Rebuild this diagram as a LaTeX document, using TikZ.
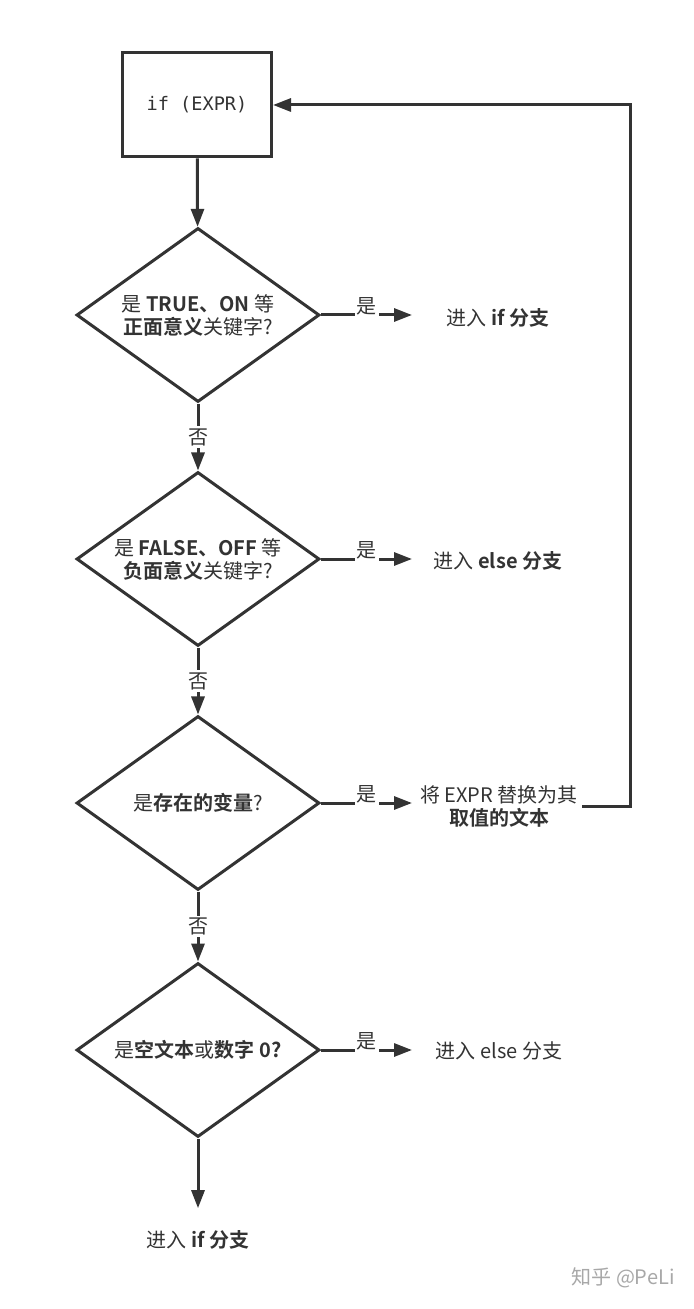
\documentclass[tikz,border=0pt]{standalone}
\usepackage{fontspec}
\setmainfont{Noto Sans CJK SC}[BoldFont={Noto Sans CJK SC Bold}]
\newfontfamily\codefont{DejaVu Sans Mono}
\usetikzlibrary{shapes.geometric,arrows.meta}
\definecolor{ink}{HTML}{333333}
\definecolor{markgray}{HTML}{A8A8A8}

\begin{document}
\begin{tikzpicture}[x=0.5pt,y=-0.5pt,
  every node/.style={text=ink,font=\fontsize{10}{11.5}\selectfont},
  decision/.style={draw=ink,line width=1.5pt,diamond,aspect=1.4,inner sep=0pt,
    minimum width=121.5pt,minimum height=87pt,align=center},
  process/.style={draw=ink,line width=1.5pt,minimum width=74.5pt,minimum height=52pt,
    font=\codefont\fontsize{9.3}{11}\selectfont},
  arr/.style={draw=ink,line width=1.5pt,-{Triangle[length=9pt,width=6.5pt]}},
  lab/.style={fill=white,inner sep=1pt},
  outtext/.style={align=center,inner sep=2pt}]
  \fill[white] (0,0) rectangle (693,1309);
  \useasboundingbox (0,0) rectangle (693,1309);

  \node[process] (box) at (197,105) {if (EXPR)};
  \node[decision] (d1) at (198,315) {是 \textbf{TRUE、ON} 等\\\textbf{正面意义}关键字?};
  \node[decision] (d2) at (198,559) {是 \textbf{FALSE、OFF} 等\\\textbf{负面意义}关键字?};
  \node[decision] (d3) at (198,803) {是\textbf{存在的变量}?};
  \node[decision] (d4) at (198,1050) {是\textbf{空文本}或\textbf{数字 0?}};

  \node[outtext] (o1) at (498,318) {进入 \textbf{if 分支}};
  \node[outtext] (o2) at (498,561) {进入 \textbf{else 分支}};
  \node[outtext] (o3) at (499,806) {将 EXPR 替换为其\\\textbf{取值的文本}};
  \node[outtext] (o4) at (499,1051) {进入 else 分支};
  \node[outtext] (o5) at (198,1240) {进入 \textbf{if 分支}};
  \node[text=markgray] (mark) at (623,1278) {知乎 @PeLi};

  \coordinate (tipX) at (412,0);
  \coordinate (loopX) at (630,0);

  \draw[arr] (box) -- (d1);
  \draw[arr] (d1) -- node[lab]{否} (d2);
  \draw[arr] (d2) -- node[lab]{否} (d3);
  \draw[arr] (d3) -- node[lab]{否} (d4);
  \draw[arr,shorten >=9pt] (d4) -- (o5);

  \draw[arr] (d1.east) -- node[lab,yshift=4.5pt]{是} (d1.east -| tipX);
  \draw[arr] (d2.east) -- node[lab,yshift=4.5pt]{是} (d2.east -| tipX);
  \draw[arr] (d3.east) -- node[lab,yshift=4.5pt]{是} (d3.east -| tipX);
  \draw[arr] (d4.east) -- node[lab,yshift=4.5pt]{是} (d4.east -| tipX);

  \draw[arr] (o3.east) -- (o3.east -| loopX) |- (box.east);
\end{tikzpicture}
\end{document}
